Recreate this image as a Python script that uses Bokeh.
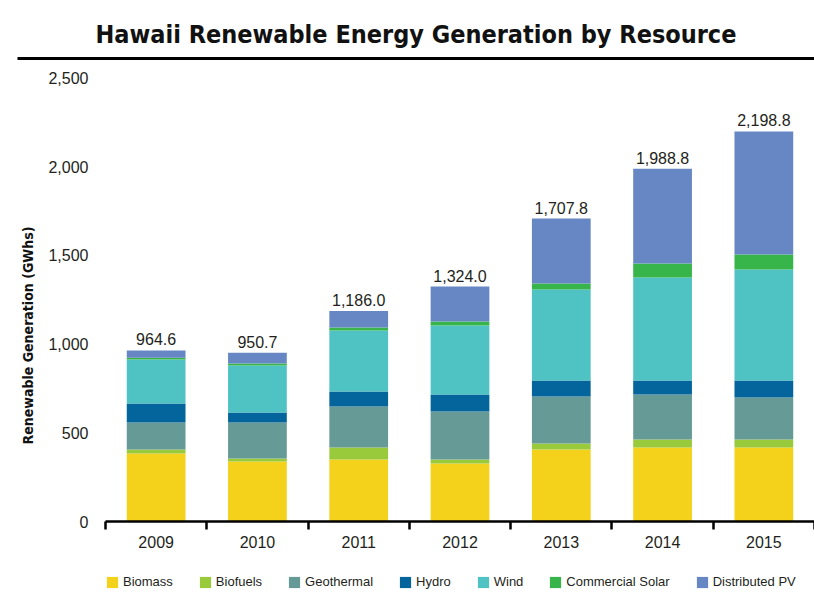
import math
from bokeh.plotting import figure
from bokeh.models import (ColumnDataSource, FixedTicker, NumeralTickFormatter, Legend,
                          LegendItem, Label, LinearAxis, Range1d)
from bokeh.core.properties import value
from bokeh.embed import file_html
from bokeh.resources import INLINE

years = ["2009", "2010", "2011", "2012", "2013", "2014", "2015"]
biomass = [383, 338, 349, 327, 406, 417, 417]
biofuels = [23, 17, 68, 22, 34, 45, 45]
geothermal = [152, 203, 231, 271, 265, 254, 237]
hydro = [107, 56, 85, 96, 90, 79, 96]
wind = [248, 265, 344, 389, 513, 580, 625]
commercial_solar = [10, 12, 17, 22, 34, 79, 85]
distributed_pv = [41.6, 59.7, 92, 197, 365.8, 534.8, 693.8]

series_names = ["Biomass", "Biofuels", "Geothermal", "Hydro", "Wind",
                "Commercial Solar", "Distributed PV"]
series_values = [biomass, biofuels, geothermal, hydro, wind, commercial_solar, distributed_pv]
colors = ["#F4D21B", "#99CA3C", "#669A97", "#03659B", "#4FC3C3", "#38B54A", "#6787C4"]
y_ticks = [0, 500, 1000, 1500, 2000, 2500]
y_max_tick = 2500

FONT = "'Liberation Sans', Arial, Helvetica, sans-serif"
COND = "'DejaVu Sans Condensed', 'DejaVu Sans', sans-serif"

# layout (pixels)
W, H = 814, 606
LEFT, TOP = 17, 58                      # frame starts here (frame runs to right/bottom edge)
AXIS_X = 105                            # pixel column where the category axis starts
ZERO_Y = 521                            # pixel row of the value 0
Y_TOP_PX = 77.5                         # pixel row of the 2,500 tick

band = (W - AXIS_X) / len(years)
x_start = -(AXIS_X - LEFT) / band
px_per_unit = (ZERO_Y - Y_TOP_PX) / y_max_tick
y_start = -(H - ZERO_Y) / px_per_unit
y_end = y_max_tick + (Y_TOP_PX - TOP) / px_per_unit

xpos = [i + 0.5 for i in range(len(years))]
data = {"x": xpos}
keys = []
for i, vals in enumerate(series_values):
    k = "s%d" % i
    keys.append(k)
    data[k] = vals
totals = [round(sum(v[j] for v in series_values), 1) for j in range(len(years))]
data["total"] = totals
data["label"] = ["{:,.1f}".format(t) for t in totals]
src = ColumnDataSource(data)

p = figure(width=W, height=H, x_range=Range1d(x_start, len(years)), y_range=Range1d(y_start, y_end),
           output_backend="svg", toolbar_location=None,
           min_border_left=LEFT, min_border_right=0, min_border_top=TOP, min_border_bottom=0,
           title="Hawaii Renewable Energy Generation by Resource")
p.grid.visible = False
p.outline_line_color = None

p.title.align = "center"
p.title.text_font = COND
p.title.text_font_style = "bold"
p.title.text_font_size = "25px"
p.title.text_color = "#111111"
p.title.standoff = 20

xa = p.below[0]
ya = p.left[0]

renderers = p.vbar_stack(keys, x="x", width=0.58, source=src, color=colors, line_color=None)

p.text(x="x", y="total", text="label", source=src, text_align="center",
       text_baseline="alphabetic", y_offset=-11, text_font=value(FONT),
       text_font_size="16px", text_color="#231F20")

# x axis, drawn at value 0 inside the frame
xa.fixed_location = 0
xa.bounds = (0, len(years))
xa.ticker = FixedTicker(ticks=xpos, minor_ticks=list(range(len(years) + 1)))
xa.major_label_overrides = {x: y for x, y in zip(xpos, years)}
xa.axis_line_color = "black"
xa.axis_line_width = 2.5
xa.major_tick_line_color = None
xa.major_tick_out = 0
xa.major_tick_in = 0
xa.minor_tick_line_color = "black"
xa.minor_tick_line_width = 2.5
xa.minor_tick_out = 8
xa.minor_tick_in = 0
xa.major_label_standoff = 6
xa.major_label_text_font = FONT
xa.major_label_text_font_size = "16px"
xa.major_label_text_color = "#231F20"

# y axis, drawn at the start of the category axis
ya.fixed_location = 0
ya.ticker = FixedTicker(ticks=y_ticks)
ya.formatter = NumeralTickFormatter(format="0,0")
ya.axis_line_color = None
ya.major_tick_line_color = None
ya.minor_tick_line_color = None
ya.major_tick_out = 0
ya.major_tick_in = 0
ya.major_label_standoff = 17
ya.major_label_text_font = FONT
ya.major_label_text_font_size = "16px"
ya.major_label_text_color = "#231F20"

# heavy rule under the title
rule = LinearAxis(ticker=FixedTicker(ticks=[]), axis_line_color="black", axis_line_width=3,
                  major_tick_line_color=None, minor_tick_line_color=None,
                  major_tick_out=0, major_tick_in=0, minor_tick_out=0, minor_tick_in=0,
                  major_label_standoff=0, major_label_text_font_size="1px")
p.add_layout(rule, "above")

p.add_layout(Label(x=10, y=H - 335, x_units="screen", y_units="screen",
                   text="Renewable Generation (GWhs)", angle=math.pi / 2,
                   text_align="center", text_baseline="middle",
                   text_font=COND, text_font_style="bold", text_font_size="14px",
                   text_color="#111111"))

legend = Legend(items=[LegendItem(label=n, renderers=[r]) for n, r in zip(series_names, renderers)],
                orientation="horizontal", location=(AXIS_X - LEFT, H - 574 - 15),
                glyph_width=14, glyph_height=14, label_height=14, label_standoff=4,
                spacing=25, padding=0, margin=0, border_line_color=None,
                background_fill_alpha=0, label_text_font=FONT, label_text_font_size="13px",
                label_text_color="#231F20")
p.add_layout(legend, "center")

open("out.html", "w").write(file_html(p, INLINE))
